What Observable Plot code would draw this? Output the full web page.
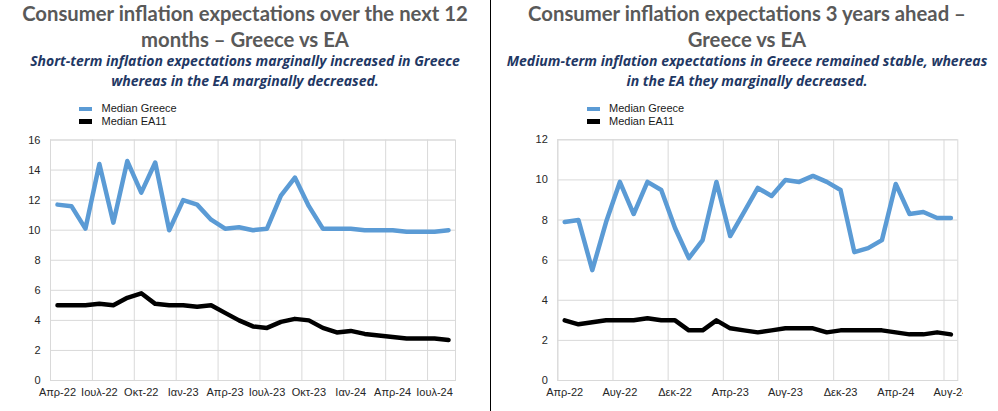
<!DOCTYPE html>
<html>
<head>
<meta charset="utf-8">
<script src="https://cdn.jsdelivr.net/npm/d3@7"></script>
<script src="https://cdn.jsdelivr.net/npm/@observablehq/plot@0.6"></script>
<style>
  html, body { margin: 0; padding: 0; background: #fff; width: 998px; height: 411px; overflow: hidden; }
  .abs { position: absolute; }
  .title { font-family: Lato, "Open Sans", sans-serif; font-weight: 700; font-size: 20.3px; line-height: 26.4px; color: #595959; text-align: center; white-space: nowrap; }
  .sub { font-family: "Open Sans", Lato, sans-serif; font-weight: 700; font-style: italic; font-size: 14px; line-height: 20px; color: #1f3864; text-align: center; white-space: nowrap; }
  .leg { font-family: "Liberation Sans", Arial, sans-serif; font-size: 11px; color: #1a1a1a; }
  .sw { position: absolute; width: 13px; height: 4.5px; }
  .divider { position: absolute; left: 489.6px; top: 0; width: 1.6px; height: 411px; background: #000; }
</style>
</head>
<body>
<div id="root"></div>
<script>
// ---- Data ----
const months = ["Απρ-22","Μαϊ-22","Ιουν-22","Ιουλ-22","Αυγ-22","Σεπ-22","Οκτ-22","Νοε-22","Δεκ-22",
  "Ιαν-23","Φεβ-23","Μαρ-23","Απρ-23","Μαϊ-23","Ιουν-23","Ιουλ-23","Αυγ-23","Σεπ-23","Οκτ-23","Νοε-23","Δεκ-23",
  "Ιαν-24","Φεβ-24","Μαρ-24","Απρ-24","Μαϊ-24","Ιουν-24","Ιουλ-24","Αυγ-24"];

const greece12m = [11.7,11.6,10.1,14.4,10.5,14.6,12.5,14.5,10.0,12.0,11.7,10.7,10.1,10.2,10.0,10.1,12.3,13.5,11.6,10.1,10.1,10.1,10.0,10.0,10.0,9.9,9.9,9.9,10.0];
const ea12m     = [5.0,5.0,5.0,5.1,5.0,5.5,5.8,5.1,5.0,5.0,4.9,5.0,4.5,4.0,3.6,3.5,3.9,4.1,4.0,3.5,3.2,3.3,3.1,3.0,2.9,2.8,2.8,2.8,2.7];
const greece3y  = [7.9,8.0,5.5,7.9,9.9,8.3,9.9,9.5,7.6,6.1,7.0,9.9,7.2,8.4,9.6,9.2,10.0,9.9,10.2,9.9,9.5,6.4,6.6,7.0,9.8,8.3,8.4,8.1,8.1];
const ea3y      = [3.0,2.8,2.9,3.0,3.0,3.0,3.1,3.0,3.0,2.5,2.5,3.0,2.6,2.5,2.4,2.5,2.6,2.6,2.6,2.4,2.5,2.5,2.5,2.5,2.4,2.3,2.3,2.4,2.3];

const yTicksLeft = [0,2,4,6,8,10,12,14,16];
const yTicksRight = [0,2,4,6,8,10,12];
const labelStepLeft = 3;
const labelStepRight = 4;

const seriesNames = ["Median Greece", "Median EA11"];
const titles = [
  ["Consumer inflation expectations over the next 12", "months – Greece vs EA"],
  ["Consumer inflation expectations 3 years ahead –", "Greece vs EA"]
];
const subtitles = [
  ["Short-term inflation expectations marginally increased in Greece", "whereas in the EA marginally decreased."],
  ["Medium-term inflation expectations in Greece remained stable, whereas", "in the EA they marginally decreased."]
];

// ---- Styling ----
const BLUE = "#5b9bd5", BLACK = "#000000", GRID = "#d9d9d9", TICK = "#262626";
const root = document.getElementById("root");

function el(tag, cls, style, html) {
  const e = document.createElement(tag);
  if (cls) e.className = cls;
  Object.assign(e.style, style);
  if (html != null) e.innerHTML = html;
  root.appendChild(e);
  return e;
}

function toRows(vals) { return vals.map((v, i) => ({i, v, month: months[i]})); }

function makeChart({greece, ea, yTicks, step, left, width, mLeft, mRight, mTop}) {
  const n = months.length;
  const gridIdx = d3.range(-0.5, n - 0.5, step);
  const labelIdx = d3.range(0, n, step);
  const chart = Plot.plot({
    width, height: 275,
    marginLeft: mLeft, marginRight: mRight, marginTop: mTop, marginBottom: 25,
    style: {fontFamily: "'Liberation Sans', Arial, sans-serif", fontSize: "11px", color: TICK, background: "transparent"},
    x: {domain: [-0.5, n - 0.5]},
    y: {domain: [yTicks[0], yTicks[yTicks.length - 1]]},
    marks: [
      Plot.gridY(yTicks, {stroke: GRID, strokeOpacity: 1, strokeWidth: 1}),
      Plot.gridX(gridIdx, {stroke: GRID, strokeOpacity: 1, strokeWidth: 1}),
      Plot.frame({stroke: GRID, strokeWidth: 1}),
      Plot.axisY(yTicks, {tickSize: 0, tickPadding: 10, label: null, fontSize: 11, fill: TICK}),
      Plot.axisX(labelIdx, {tickSize: 0, tickPadding: 8, label: null, fontSize: 11, fill: TICK, tickFormat: i => months[i]}),
      Plot.line(toRows(ea), {x: "i", y: "v", stroke: BLACK, strokeWidth: 4.5, strokeLinejoin: "round", strokeLinecap: "round"}),
      Plot.line(toRows(greece), {x: "i", y: "v", stroke: BLUE, strokeWidth: 4.5, strokeLinejoin: "round", strokeLinecap: "round"})
    ]
  });
  chart.style.position = "absolute";
  chart.style.left = left + "px";
  chart.style.top = "130px";
  chart.style.overflow = "hidden";
  root.appendChild(chart);
}

function panel(k, titleLeft, titleWidth, legX) {
  el("div", "abs title", {left: titleLeft + "px", top: "-0.5px", width: titleWidth + "px"}, titles[k].join("<br>"));
  el("div", "abs sub", {left: titleLeft + "px", top: "50.6px", width: titleWidth + "px"}, subtitles[k].join("<br>"));
  const colors = [BLUE, BLACK];
  seriesNames.forEach((name, j) => {
    const y = 109 + j * 12.5;
    el("div", "sw", {left: legX + "px", top: (y - 2.25) + "px", background: colors[j]});
    el("div", "abs leg", {left: (legX + 22.5) + "px", top: (y - 7) + "px", lineHeight: "13px"}, name);
  });
}

panel(0, 0, 490, 79);
panel(1, 497, 500, 586.5);
el("div", "divider", {});

makeChart({greece: greece12m, ea: ea12m, yTicks: yTicksLeft, step: labelStepLeft, left: 0, width: 490, mLeft: 50, mRight: 35, mTop: 9.5});
makeChart({greece: greece3y, ea: ea3y, yTicks: yTicksRight, step: labelStepRight, left: 495, width: 468, mLeft: 62.3, mRight: 5.7, mTop: 9.3});
</script>
</body>
</html>
